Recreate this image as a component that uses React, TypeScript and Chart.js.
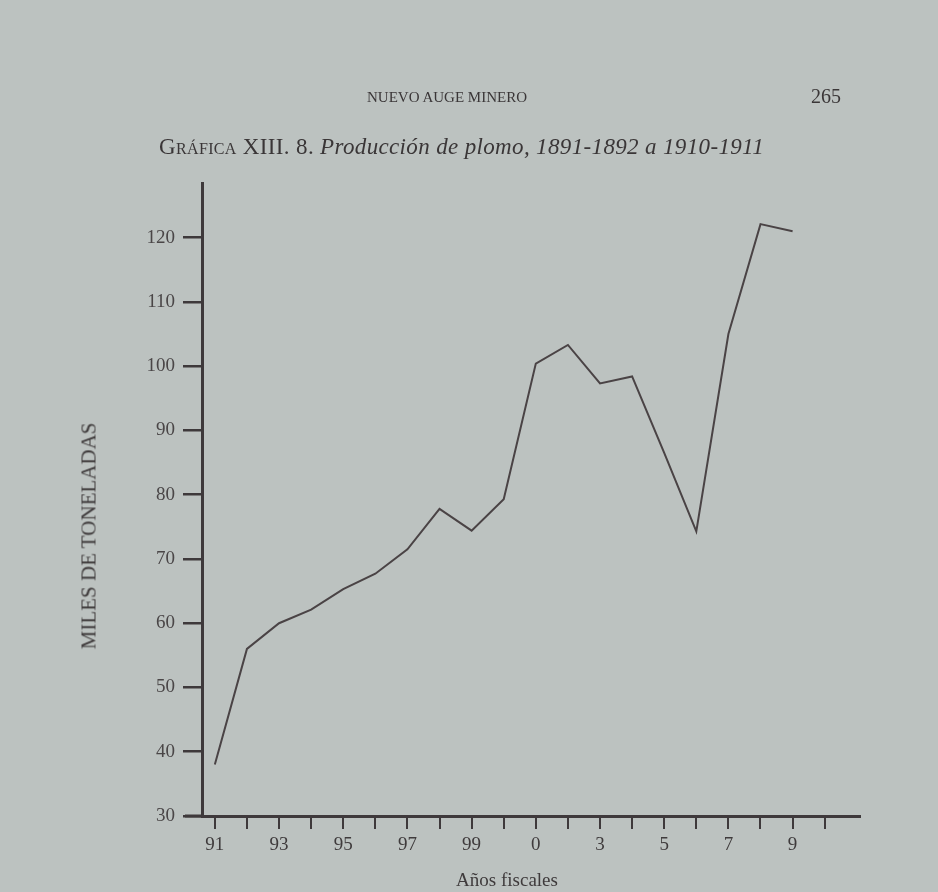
import React, { useEffect, useRef } from "react";
import { Chart, registerables } from "chart.js";

Chart.register(...registerables);

const xLabels = ["91", "", "93", "", "95", "", "97", "", "99", "", "0", "", "3", "", "5", "", "7", "", "9", ""];
const production = [38, 56, 60, 62.1, 65.3, 67.7, 71.5, 77.8, 74.4, 79.3, 100.4, 103.3, 97.3, 98.4, 86.5, 74.3, 105, 122.1, 121];
const yTicks = [30, 40, 50, 60, 70, 80, 90, 100, 110, 120];

const INK = "#3e393b";
const LINE = "#4a4345";
const PAPER = "#bcc2c0";
const FONT = "'Liberation Serif', 'DejaVu Serif', serif";

const axisExtension = {
  id: "axisExtension",
  afterDatasetsDraw(chart: any) {
    const { ctx, chartArea } = chart;
    ctx.save();
    ctx.strokeStyle = INK;
    ctx.lineWidth = 3;
    ctx.beginPath();
    ctx.moveTo(chartArea.left - 17, chartArea.bottom);
    ctx.lineTo(chartArea.left, chartArea.bottom);
    ctx.stroke();
    ctx.restore();
  },
};

export default function App() {
  const ref = useRef<HTMLCanvasElement | null>(null);

  useEffect(() => {
    if (!ref.current) return;
    const chart = new Chart(ref.current, {
      type: "line",
      data: {
        datasets: [
          {
            data: production.map((v, i) => ({ x: i, y: v })),
            borderColor: LINE,
            borderWidth: 2,
            pointRadius: 0,
            tension: 0,
            fill: false,
          },
        ],
      },
      options: {
        animation: false,
        responsive: false,
        maintainAspectRatio: false,
        layout: { padding: { left: 80, right: 78, top: 183, bottom: 0 } },
        plugins: { legend: { display: false }, tooltip: { enabled: false } },
        scales: {
          x: {
            type: "linear",
            min: -0.4,
            max: 20.1,
            afterBuildTicks: (scale: any) => {
              scale.ticks = xLabels.map((_, i) => ({ value: i }));
            },
            afterFit: (scale: any) => {
              scale.height = 76;
            },
            border: { display: true, color: INK, width: 3 },
            grid: {
              drawOnChartArea: false,
              drawTicks: true,
              tickLength: 13,
              color: INK,
              lineWidth: 2,
            },
            ticks: {
              autoSkip: false,
              maxRotation: 0,
              padding: 5,
              color: "#3f3b3c",
              font: { family: FONT, size: 19 },
              callback: (v: any) => xLabels[Math.round(Number(v))] ?? "",
            },
          },
          y: {
            type: "linear",
            min: 30,
            max: 128.5,
            afterBuildTicks: (scale: any) => {
              scale.ticks = yTicks.map((v) => ({ value: v }));
            },
            afterFit: (scale: any) => {
              scale.width = 122;
            },
            border: { display: true, color: INK, width: 3 },
            grid: {
              drawOnChartArea: false,
              drawTicks: true,
              tickLength: 19,
              color: INK,
              lineWidth: 2.5,
            },
            ticks: {
              padding: 8,
              color: "#4a4647",
              font: { family: FONT, size: 19 },
            },
          },
        },
      },
      plugins: [axisExtension],
    });
    return () => chart.destroy();
  }, []);

  return (
    <div
      style={{
        position: "fixed",
        left: 0,
        top: 0,
        width: 938,
        height: 892,
        background: PAPER,
        fontFamily: FONT,
        color: "#3a3637",
        overflow: "hidden",
      }}
    >
      <canvas ref={ref} width={938} height={892} style={{ position: "absolute", left: 0, top: 0 }} />
      <div
        style={{
          position: "absolute",
          left: 447,
          top: 97,
          transform: "translate(-50%, -50%)",
          fontSize: 15,
          whiteSpace: "nowrap",
        }}
      >
        NUEVO AUGE MINERO
      </div>
      <div
        style={{
          position: "absolute",
          left: 826,
          top: 96,
          transform: "translate(-50%, -50%)",
          fontSize: 20,
        }}
      >
        265
      </div>
      <div
        style={{
          position: "absolute",
          left: 159,
          top: 147,
          transform: "translateY(-50%)",
          fontSize: 23,
          whiteSpace: "nowrap",
          letterSpacing: 0.35,
        }}
      >
        <span style={{ fontVariant: "small-caps" }}>Gráfica</span> XIII. 8.{" "}
        <i>Producción de plomo, 1891-1892 a 1910-1911</i>
      </div>
      <div
        style={{
          position: "absolute",
          left: 89,
          top: 536,
          transform: "translate(-50%, -50%) rotate(-90deg)",
          fontSize: 21,
          whiteSpace: "nowrap",
          color: "#3f3b3c",
        }}
      >
        MILES DE TONELADAS
      </div>
      <div
        style={{
          position: "absolute",
          left: 507,
          top: 880,
          transform: "translate(-50%, -50%)",
          fontSize: 19,
          whiteSpace: "nowrap",
          color: "#3f3b3c",
        }}
      >
        Años fiscales
      </div>
    </div>
  );
}
